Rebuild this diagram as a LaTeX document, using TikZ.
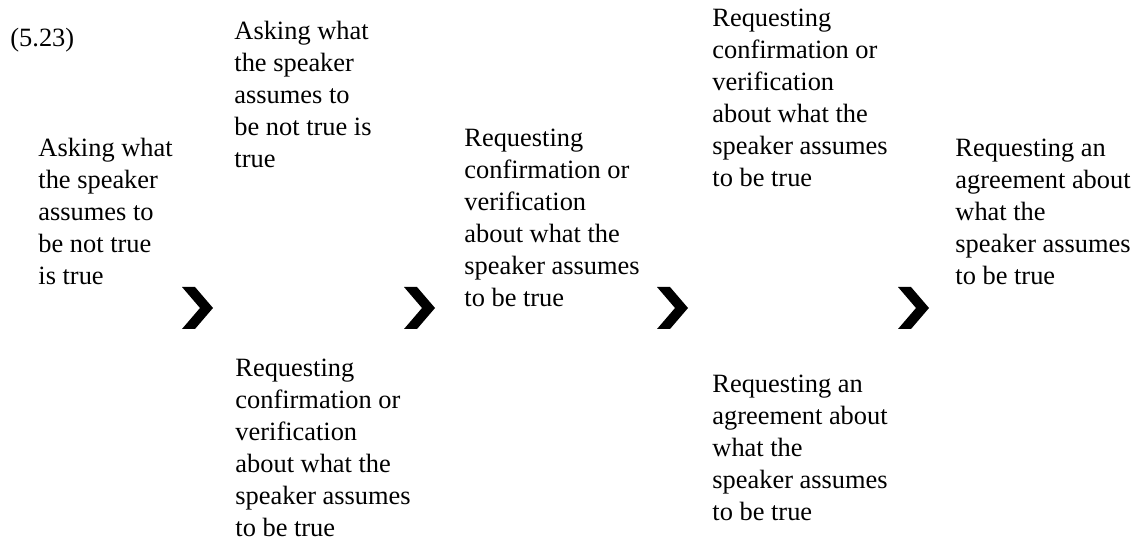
\documentclass[tikz,border=0pt]{standalone}
\usepackage{fontspec}
\setmainfont{Liberation Serif}
\usepackage{tikz}

\begin{document}
\begin{tikzpicture}[x=0.4545pt,y=-0.4545pt,
    txt/.style={anchor=base west,inner sep=0pt,align=left,font={\fontsize{12pt}{14.55pt}\selectfont}}]
    \useasboundingbox (0,0) rectangle (1140,548);

    % base = baseline of the last line
    \node[txt] at (10,47) (Num) {(5.23)};

    \node[txt] at (38,285) (AskA) {Asking what\\the speaker\\assumes to\\be not true\\is true};
    \node[txt] at (234,168) (AskB) {Asking what\\the speaker\\assumes to\\be not true is\\true};
    \node[txt] at (235,537) (ConfA) {Requesting\\confirmation or\\verification\\about what the\\speaker assumes\\to be true};
    \node[txt] at (464,307) (ConfB) {Requesting\\confirmation or\\verification\\about what the\\speaker assumes\\to be true};
    \node[txt] at (712,187) (ConfC) {Requesting\\confirmation or\\verification\\about what the\\speaker assumes\\to be true};
    \node[txt] at (712,521) (AgrA) {Requesting an\\agreement about\\what the\\speaker assumes\\to be true};
    \node[txt] at (955,285) (AgrB) {Requesting an\\agreement about\\what the\\speaker assumes\\to be true};

    \coordinate (ArrA) at (182,287);
    \coordinate (ArrB) at (404,287);
    \coordinate (ArrC) at (657,287);
    \coordinate (ArrD) at (898,287);

    \fill (ArrA) -- ++(13,0) -- ++(18,21) -- ++(-18,21) -- ++(-13,0) -- ++(18,-21) -- cycle;
    \fill (ArrB) -- ++(13,0) -- ++(18,21) -- ++(-18,21) -- ++(-13,0) -- ++(18,-21) -- cycle;
    \fill (ArrC) -- ++(13,0) -- ++(18,21) -- ++(-18,21) -- ++(-13,0) -- ++(18,-21) -- cycle;
    \fill (ArrD) -- ++(13,0) -- ++(18,21) -- ++(-18,21) -- ++(-13,0) -- ++(18,-21) -- cycle;
  \end{tikzpicture}
\end{document}
